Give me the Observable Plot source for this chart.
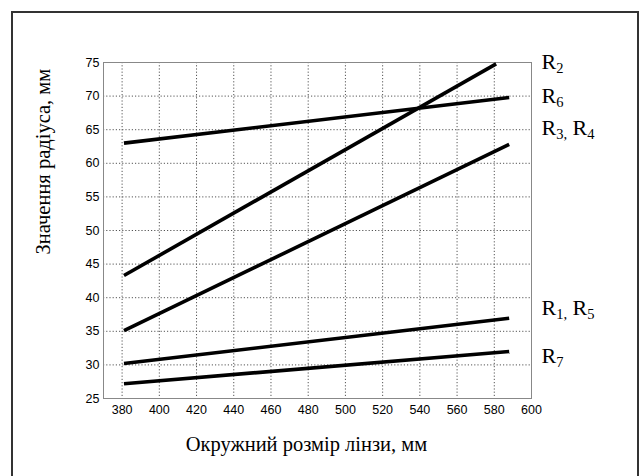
<!DOCTYPE html>
<html><head><meta charset="utf-8">
<script src="https://cdn.jsdelivr.net/npm/d3@7"></script>
<script src="https://cdn.jsdelivr.net/npm/@observablehq/plot@0.6"></script>
<style>
body{margin:0;background:#fff}
#wrap{position:relative;width:642px;height:476px;overflow:hidden}
#border{position:absolute;left:11px;top:11px;width:624px;height:470px;border:2px solid #333;border-bottom:none;pointer-events:none}
</style>
</head><body><div id="wrap"><div id="border"></div></div>
<script>
const series = ["R2", "R6", "R3,R4", "R1,R5", "R7"];
const xStart = [381, 381, 381, 381, 381];
const xEnd   = [581, 588, 588, 588, 588];
const yStart = [43.3, 63.0, 35.1, 30.2, 27.2];
const yEnd   = [74.8, 69.8, 62.8, 36.95, 32.0];
const labelY = [75.1, 70.0, 65.2, 38.4, 31.4];
const xTicks = [380, 400, 420, 440, 460, 480, 500, 520, 540, 560, 580, 600];
const yTicks = [25, 30, 35, 40, 45, 50, 55, 60, 65, 70, 75];
const xTitle = "Окружний розмір лінзи, мм";
const yTitle = "Значення радіуса, мм";

const pts = [];
series.forEach((s, i) => {
  pts.push({s, x: xStart[i], y: yStart[i]});
  pts.push({s, x: xEnd[i], y: yEnd[i]});
});
const labels = series.map((s, i) => ({s, y: labelY[i]}));
const serif = "'Liberation Serif', 'Times New Roman', serif";

const chart = Plot.plot({
  width: 642, height: 476,
  marginLeft: 103, marginRight: 111, marginTop: 62, marginBottom: 78,
  style: {fontFamily: "'Liberation Sans', Arial, sans-serif", fontSize: "12.5px", color: "#000", background: "transparent", overflow: "visible"},
  x: {domain: [370, 600]},
  y: {domain: [25, 75]},
  marks: [
    Plot.gridX(xTicks.slice(0, -1), {stroke: "#555", strokeOpacity: 1, strokeDasharray: "1.2,2", strokeWidth: 1}),
    Plot.gridY(yTicks.slice(1, -1), {stroke: "#555", strokeOpacity: 1, strokeDasharray: "1.2,2", strokeWidth: 1}),
    Plot.frame({stroke: "#888", strokeWidth: 1}),
    Plot.axisX(xTicks, {tickSize: 0, tickPadding: 7, label: null, fontSize: 12.5}),
    Plot.axisY(yTicks, {tickSize: 0, tickPadding: 4, label: null, fontSize: 12.5}),
    Plot.line(pts, {x: "x", y: "y", z: "s", stroke: "#000", strokeWidth: 3.6, strokeLinecap: "butt"}),
    Plot.text(labels, {x: () => 600, y: "y", text: "s", dx: 10, textAnchor: "start", fontSize: 22, fontFamily: serif, fill: "#000", className: "rlab"}),
    Plot.text([xTitle], {frameAnchor: "bottom", dx: -11, dy: 52, fontSize: 20.5, fontFamily: serif, fill: "#000"}),
    Plot.text([yTitle], {frameAnchor: "left", dx: -60, dy: 24, rotate: -90, fontSize: 20.5, fontFamily: serif, fill: "#000"})
  ]
});

// subscripts for the series labels
d3.select(chart).selectAll("g.rlab text").each(function () {
  const t = d3.select(this);
  const txt = t.text();
  t.text(null);
  const parts = txt.split(",");
  parts.forEach((p, j) => {
    t.append("tspan").text((j > 0 ? " " : "") + p[0]);
    t.append("tspan").attr("font-size", 14.5).attr("baseline-shift", "-25%").text(p.slice(1) + (j < parts.length - 1 ? "," : ""));
  });
});

document.getElementById("wrap").appendChild(chart);
</script>
</body></html>
